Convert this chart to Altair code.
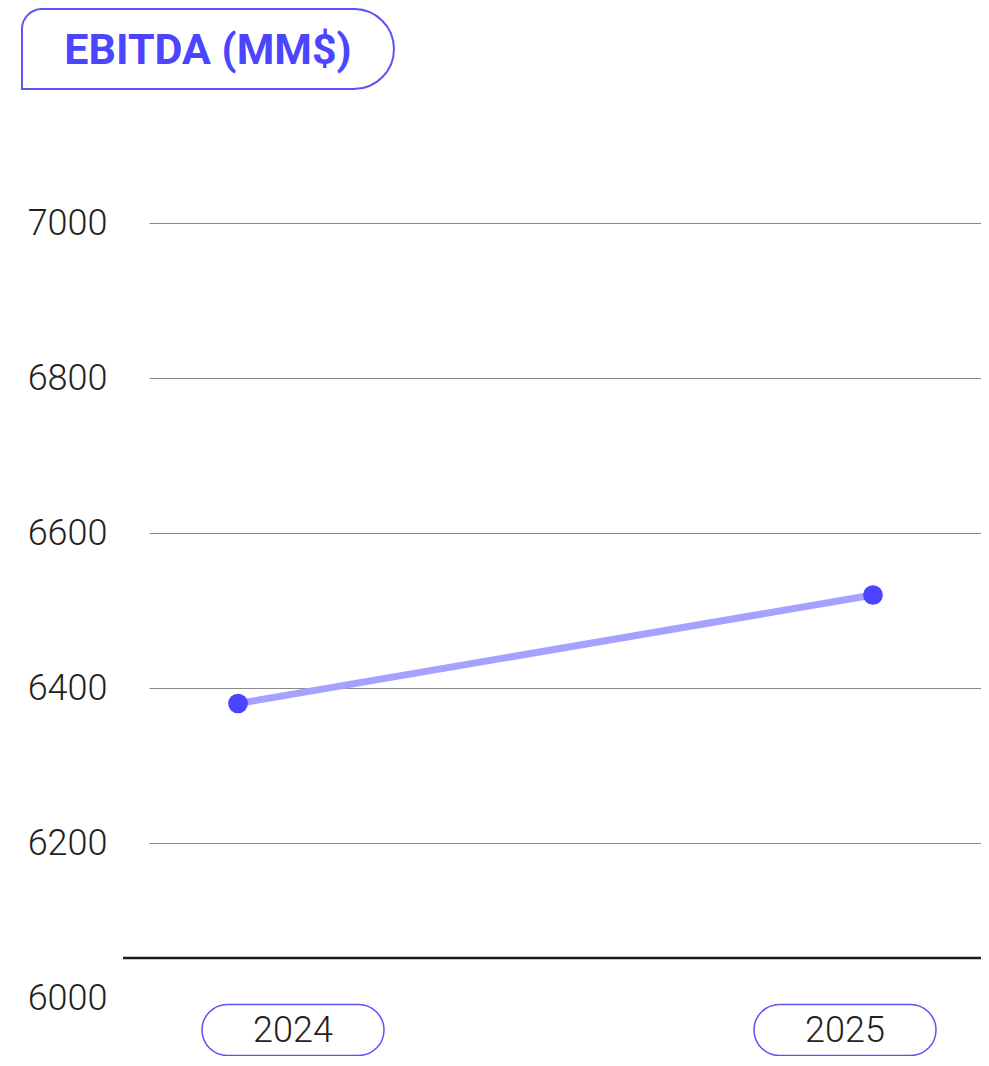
import altair as alt
import pandas as pd

# ---- data ----
years = [2024, 2025]
year_labels = ["2024", "2025"]
ebitda = [6380, 6520]
y_ticks = [6000, 6200, 6400, 6600, 6800, 7000]
title_text = "EBITDA (MM$)"

df = pd.DataFrame({"year": years, "label": year_labels, "value": ebitda})
one = pd.DataFrame({"t": [title_text]})

W, H = 832, 1048
PURPLE = "#4B45FF"
LINE = "#A6A1FF"
BOX = "#5A54F4"
TEXT = "#231F20"
FONT = "Roboto"

# 200 units = 155 px; 7000 sits 215 px below the plot top
yscale = alt.Scale(domain=[6000 - (H - 990) * 200 / 155, 7000 + 215 * 200 / 155],
                   nice=False, zero=False)
xscale = alt.Scale(domain=[2023.8598, 2025.1701], nice=False, zero=False)

yaxis = alt.Axis(
    values=y_ticks, title=None, ticks=False, domain=False, format="d",
    labelFont=FONT, labelFontWeight=300, labelFontSize=36, labelColor=TEXT,
    labelPadding=42, grid=True, gridColor="#8a8a8a", gridWidth=1,
    gridOpacity={"condition": {"test": "datum.value === 6000", "value": 0}, "value": 1},
)

base = alt.Chart(df)

line = base.mark_line(color=LINE, strokeWidth=7).encode(
    x=alt.X("year:Q", scale=xscale, axis=None),
    y=alt.Y("value:Q", scale=yscale, axis=yaxis),
)
pts = base.mark_circle(color=PURPLE, size=390, opacity=1).encode(
    x=alt.X("year:Q", scale=xscale, axis=None),
    y=alt.Y("value:Q", scale=yscale),
)

pill_path = ("M -0.7198 -0.2802 L 0.7198 -0.2802 A 0.2802 0.2802 0 0 1 0.7198 0.2802 "
             "L -0.7198 0.2802 A 0.2802 0.2802 0 0 1 -0.7198 -0.2802 Z")
pscale = alt.Scale(type="point", padding=0, range=[144, 696])
pills = base.mark_point(shape=pill_path, size=182 * 182, stroke=BOX, strokeWidth=1.5,
                        filled=False, opacity=1).encode(
    x=alt.X("label:O", scale=pscale, axis=None),
    y=alt.value(H - 26),
)
pill_text = base.mark_text(font=FONT, fontWeight=300, fontSize=36, color=TEXT,
                           baseline="middle", align="center").encode(
    x=alt.X("label:O", scale=pscale, axis=None),
    y=alt.value(H - 25),
    text="label:N",
)

baseline = alt.Chart(one).mark_rule(color="#1a1a1a", strokeWidth=2.5).encode(
    x=alt.value(-26), x2=alt.value(W), y=alt.value(950)
)

box_path = ("M -1 0.2151 L -1 -0.1076 A 0.1075 0.1075 0 0 1 -0.8925 -0.2151 "
            "L 0.7849 -0.2151 A 0.2151 0.2151 0 0 1 0.7849 0.2151 Z")
title_box = alt.Chart(one).mark_point(shape=box_path, size=372 * 372, stroke=BOX,
                                      strokeWidth=2, filled=False, opacity=1).encode(
    x=alt.value(59), y=alt.value(41)
)
title = alt.Chart(one).mark_text(font=FONT, fontWeight="bold", fontSize=43, color=PURPLE,
                                 baseline="middle", align="center").encode(
    x=alt.value(59), y=alt.value(43), text="t:N"
)

chart = alt.layer(baseline, line, pts, pills, pill_text, title_box, title).resolve_scale(
    x="independent"
).properties(
    width=W, height=H,
    autosize=alt.AutoSizeParams(type="none"),
    padding={"left": 141, "top": 0, "right": 0, "bottom": 0},
).configure_view(stroke=None)

chart.save("out.html", embed_options={"renderer": "svg", "actions": False})
